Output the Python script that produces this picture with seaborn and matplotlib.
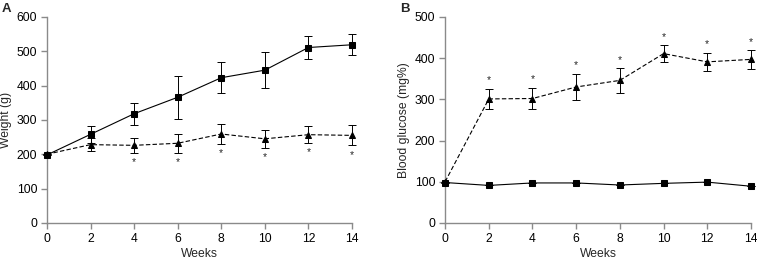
import numpy as np
import pandas as pd
import seaborn as sns
import matplotlib.pyplot as plt

# --- data ---
weeks = [0, 2, 4, 6, 8, 10, 12, 14]

weight_ctrl = [198, 258, 318, 366, 423, 445, 511, 519]
weight_ctrl_err = [0, 25, 32, 62, 45, 52, 33, 30]
weight_db = [200, 228, 226, 232, 259, 245, 257, 255]
weight_db_err = [0, 18, 22, 28, 29, 26, 25, 29]
weight_star_weeks = [4, 6, 8, 10, 12, 14]

gluc_ctrl = [98, 91, 97, 97, 92, 96, 99, 89]
gluc_ctrl_err = [0, 0, 0, 0, 0, 0, 0, 0]
gluc_db = [100, 301, 302, 330, 346, 411, 391, 397]
gluc_db_err = [0, 25, 26, 32, 30, 20, 22, 23]
gluc_star_weeks = [2, 4, 6, 8, 10, 12, 14]

sns.set_style("ticks")
plt.rcParams['font.family'] = ['Liberation Sans', 'DejaVu Sans']
FS = 8.7

SPINE = '#8a8a8a'


def draw_panel(ax, ctrl, ctrl_err, db, db_err, star_weeks, star_above, ylim, ylabel, ylab_x):
    df = pd.DataFrame({
        'Weeks': weeks * 2,
        'value': ctrl + db,
        'group': ['control'] * len(weeks) + ['diabetic'] * len(weeks),
    })
    # error bars first, markers on top
    for y, e in [(ctrl, ctrl_err), (db, db_err)]:
        eb = ax.errorbar(weeks, y, yerr=e, fmt='none', ecolor='black',
                         elinewidth=0.7, capsize=2.8, capthick=0.7, zorder=2)
        for art in eb.lines[1] + eb.lines[2]:
            art.set_clip_on(False)
    sns.lineplot(data=df, x='Weeks', y='value', style='group', markers={'control': 's', 'diabetic': '^'},
                 dashes={'control': '', 'diabetic': (4, 2)}, color='black', linewidth=0.8,
                 markersize=4.5, markeredgecolor='black', legend=False, ax=ax, zorder=3)
    for ln in ax.lines:
        ln.set_clip_on(False)
        if ln.get_marker() == 's':
            ln.set_markersize(3.8)
        elif ln.get_marker() == '^':
            ln.set_markersize(4.8)

    # significance asterisks
    span = ylim[1] - ylim[0]
    for w in star_weeks:
        i = weeks.index(w)
        if star_above:
            y = db[i] + db_err[i] + 0.04 * span
        else:
            y = db[i] - db_err[i] - 0.045 * span
        ax.text(w, y, '*', ha='center', va='center', fontsize=7.5)

    ax.set_xlim(0, 14)
    ax.set_ylim(*ylim)
    ax.set_xticks(weeks)
    ax.set_xlabel('Weeks', fontsize=FS)
    ax.set_ylabel(ylabel, fontsize=FS)
    ax.xaxis.set_label_coords(0.5, -0.15)
    ax.yaxis.set_label_coords(ylab_x, 0.5)
    ax.xaxis.label.set_va('center')
    ax.yaxis.label.set_va('center')
    sns.despine(ax=ax)
    for s in ['left', 'bottom']:
        ax.spines[s].set_color(SPINE)
        ax.spines[s].set_linewidth(1.0)
    ax.tick_params(colors=SPINE, labelcolor='black', length=4, width=1.0,
                   labelsize=FS, pad=3)


fig = plt.figure(figsize=(7.57, 2.61), dpi=100)
ax1 = fig.add_axes([0.062, 0.146, 0.403, 0.789])
ax2 = fig.add_axes([0.588, 0.146, 0.404, 0.789])

draw_panel(ax1, weight_ctrl, weight_ctrl_err, weight_db, weight_db_err,
           weight_star_weeks, False, (0, 600), 'Weight (g)', -0.135)
ax1.set_yticks([0, 100, 200, 300, 400, 500, 600])

draw_panel(ax2, gluc_ctrl, gluc_ctrl_err, gluc_db, gluc_db_err,
           gluc_star_weeks, True, (0, 500), 'Blood glucose (mg%)', -0.134)
ax2.set_yticks([0, 100, 200, 300, 400, 500])

fig.text(0.002, 0.99, 'A', fontsize=9.5, fontweight='bold', va='top', ha='left')
fig.text(0.528, 0.99, 'B', fontsize=9.5, fontweight='bold', va='top', ha='left')

fig.savefig('out.png', dpi=100)
